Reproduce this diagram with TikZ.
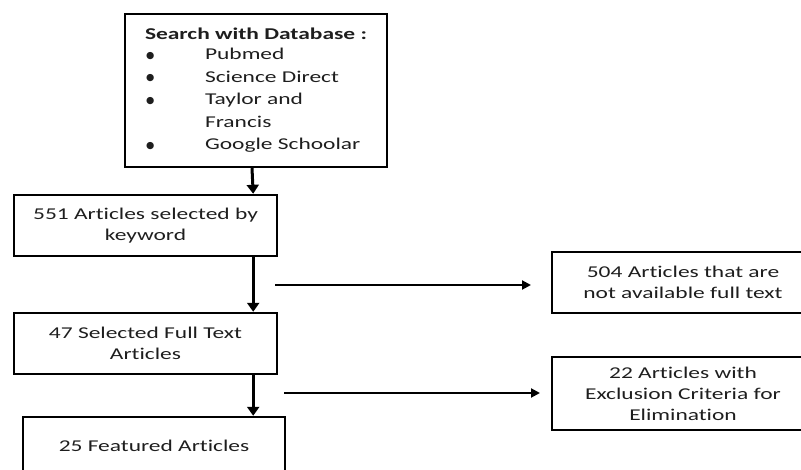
\documentclass[tikz,border=0pt]{standalone}
\usepackage{fontspec}
\setmainfont{Carlito}[FakeStretch=1.42, Ligatures={NoCommon,NoContextual}]
\newfontfamily\symbolfont{DejaVu Sans}
\usetikzlibrary{arrows.meta}
\definecolor{txt}{RGB}{30,30,30}
\newcommand{\dbbullet}{\makebox[60pt][l]{\hspace{1pt}{\symbolfont\fontsize{9.5}{9.5}\selectfont\raisebox{1.8pt}{●}}}}

\begin{document}
\begin{tikzpicture}[x=1pt,y=-1pt,
  box/.style={draw, line width=2.4pt, minimum width=262pt, minimum height=61pt,
    inner sep=0pt, align=center, text=txt, font=\fontsize{16.5}{21}\selectfont},
  vflow/.style={line width=3pt, -{Triangle[length=9pt,width=12pt]}},
  hflow/.style={line width=2pt, -{Triangle[length=9pt,width=9pt]}}]
  \useasboundingbox (0,0) rectangle (801,470);
  \clip (0,0) rectangle (801,470);

  % database search box
  \node[box, minimum height=153pt, font=\fontsize{16.5}{22.5}\selectfont] (db) at (256,90.5)
    {\begin{tabular}{@{}l@{}l@{}}
      \multicolumn{2}{@{}l@{}}{\textbf{Search with Database :}}\\[-2.5pt]
      \dbbullet & Pubmed\\
      \dbbullet & Science Direct\\
      \dbbullet & Taylor and\\
                & Francis\\
      \dbbullet & Google Schoolar
    \end{tabular}};

  % main flow
  \node[box, minimum width=263pt] (kw) at (145.5,225.5) {551 Articles selected by\\keyword};
  \node[box, minimum width=263pt] (ft) at (145.5,343.5) {47 Selected Full Text\\Articles};
  \node[box, minimum height=58pt] (fa) at (154,446) {25 Featured Articles};

  % excluded articles
  \node[box] (na) at (683,282.5) {504 Articles that are\\not available full text};
  \node[box, minimum height=73pt] (ex) at (683,393.5) {22 Articles with\\Exclusion Criteria for\\Elimination};

  % vertical connectors
  \draw[vflow] ([xshift=-4pt]db.south) -- ([xshift=-25pt]kw.north east);
  \draw[vflow] ([xshift=-25pt]kw.south east) -- ([xshift=-25pt]ft.north east);
  \draw[vflow] ([xshift=-25pt]ft.south east) -- ([xshift=-33pt]fa.north east);

  % side connectors
  \coordinate (s1) at (275,285);
  \coordinate (e1) at (531,285);
  \coordinate (s2) at (284,393);
  \coordinate (e2) at (540,393);
  \draw[hflow] (s1) -- (e1);
  \draw[hflow] (s2) -- (e2);
\end{tikzpicture}
\end{document}
